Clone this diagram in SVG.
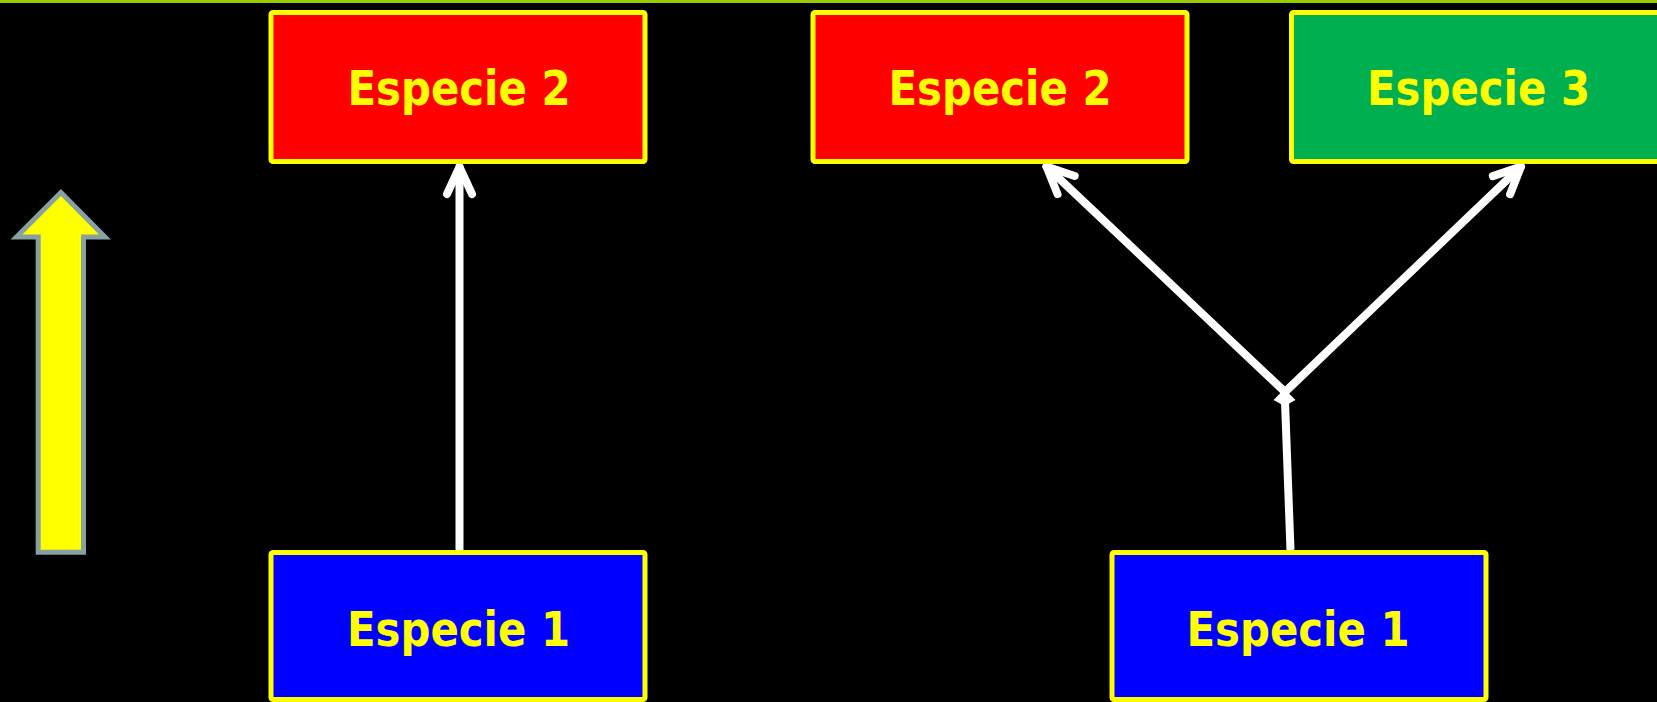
<svg xmlns="http://www.w3.org/2000/svg" width="1657" height="702" viewBox="0 0 1657 702">
<style>
.box{stroke:#FFFF00;stroke-width:5}
.lbl{font-family:"DejaVu Sans",sans-serif;font-weight:bold;font-size:48px;fill:#FFFF00;text-anchor:middle}
.conn{fill:none;stroke:#FFFFFF;stroke-width:8;stroke-linecap:round;stroke-linejoin:miter}
</style>
<defs>
<marker id="chev" markerUnits="userSpaceOnUse" viewBox="-36 -20 42 40" refX="0" refY="0" markerWidth="42" markerHeight="40" orient="auto">
<path d="M-27,-12.5 L0,0 L-27,12.5" fill="none" stroke="#FFFFFF" stroke-width="8" stroke-linecap="round" stroke-linejoin="round"/>
</marker>
</defs>
<rect x="0" y="0" width="1657" height="702" fill="#000000"/>
<rect x="0" y="0" width="1657" height="3" fill="#99CC00"/>
<g id="bigArrow">
<path d="M60.9,192.5 L105,237 L83.5,237 L83.5,552.2 L38.2,552.2 L38.2,237 L16.5,237 Z" fill="#FFFF00" stroke="#87A0A0" stroke-width="5"/>
</g>
<g id="connectors">
<path class="conn" d="M459.5,550 L459.5,167" marker-end="url(#chev)"/>
<path class="conn" d="M1285,392 L1046.5,166.5" marker-end="url(#chev)"/>
<path class="conn" d="M1285,392 L1521,166.5" marker-end="url(#chev)"/>
<polygon points="1273.5,400 1284.5,389 1295.5,400 1284.5,406" fill="#FFFFFF"/>
<path class="conn" d="M1290.5,550 L1284.5,388" style="stroke-linecap:butt"/>
</g>
<g id="node-e2-left">
<rect class="box" x="271" y="12.5" width="374" height="149" rx="2" fill="#FF0000"/>
<text class="lbl" x="459" y="105" textLength="223" lengthAdjust="spacingAndGlyphs">Especie 2</text>
</g>
<g id="node-e1-left">
<rect class="box" x="271" y="552.5" width="374" height="147" rx="2" fill="#0000FF"/>
<text class="lbl" x="458.5" y="646" textLength="223" lengthAdjust="spacingAndGlyphs">Especie 1</text>
</g>
<g id="node-e2-right">
<rect class="box" x="813" y="12.5" width="374" height="149" rx="2" fill="#FF0000"/>
<text class="lbl" x="1000" y="105" textLength="223" lengthAdjust="spacingAndGlyphs">Especie 2</text>
</g>
<g id="node-e3">
<rect class="box" x="1291.5" y="12.5" width="374" height="149" rx="2" fill="#00B050"/>
<text class="lbl" x="1478.5" y="105" textLength="223" lengthAdjust="spacingAndGlyphs">Especie 3</text>
</g>
<g id="node-e1-right">
<rect class="box" x="1112" y="552.5" width="374" height="147" rx="2" fill="#0000FF"/>
<text class="lbl" x="1298" y="646" textLength="223" lengthAdjust="spacingAndGlyphs">Especie 1</text>
</g>
</svg>
